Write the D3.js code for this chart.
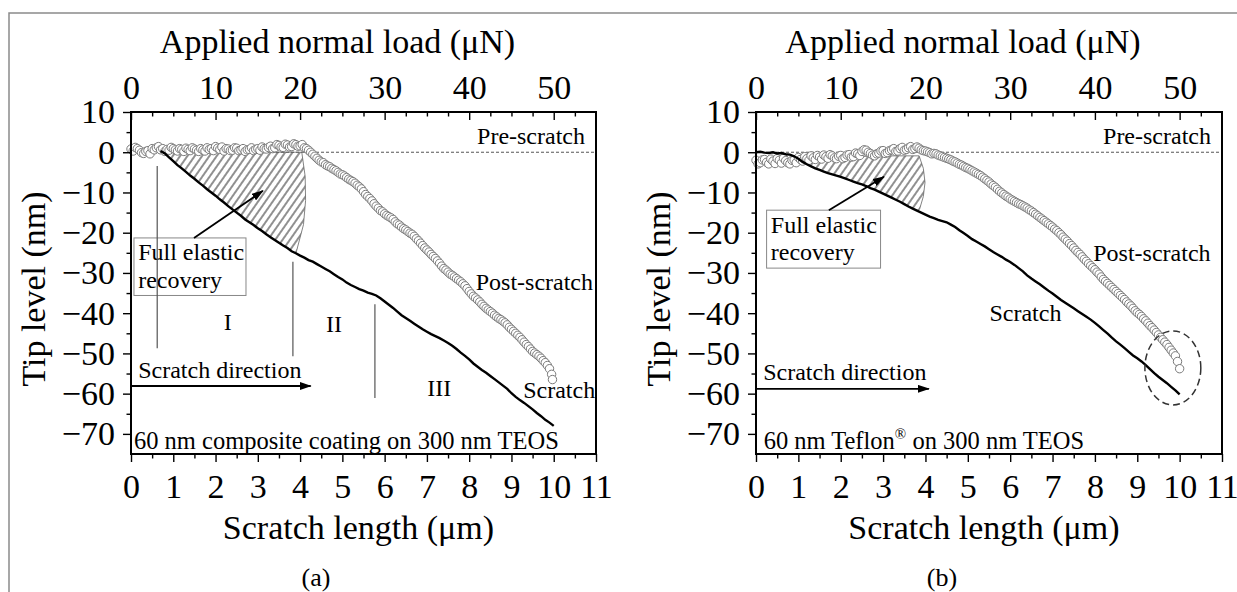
<!DOCTYPE html>
<html>
<head>
<meta charset="utf-8">
<script src="https://cdnjs.cloudflare.com/ajax/libs/d3/7.8.5/d3.min.js"></script>
<style>
body{margin:0;background:#fff}
svg{display:block;font-family:"Liberation Serif","Times New Roman",serif}
</style>
</head>
<body>
<svg></svg>
<script>
let width = 1237
let height = 592

let lengthTicks = [0,1,2,3,4,5,6,7,8,9,10,11]
let loadTicks = [0,10,20,30,40,50]
let levelTicks = [10,0,-10,-20,-30,-40,-50,-60,-70]

// (a) 60 nm composite coating -- scratch profile (um, nm)
let scratchA = [[0.7,0.3],[0.8,-0.3],[0.9,-1.3],[1.0,-2.2],[1.1,-3.2],[1.2,-4.0],[1.3,-4.9],[1.4,-5.8],[1.5,-6.6],[1.6,-7.5],[1.7,-8.3],[1.8,-9.2],[1.9,-10.0],[2.0,-10.8],[2.1,-11.7],[2.2,-12.5],[2.3,-13.4],[2.4,-14.2],[2.5,-15.0],[2.6,-15.8],[2.7,-16.7],[2.8,-17.4],[2.9,-18.1],[3.0,-18.9],[3.1,-19.6],[3.2,-20.4],[3.3,-21.1],[3.4,-21.8],[3.5,-22.5],[3.6,-23.2],[3.7,-23.8],[3.8,-24.6],[3.9,-25.1],[4.0,-25.7],[4.1,-26.2],[4.2,-26.8],[4.3,-27.2],[4.4,-27.8],[4.5,-28.4],[4.6,-29.0],[4.7,-29.6],[4.8,-30.3],[4.9,-31.0],[5.0,-31.6],[5.1,-32.4],[5.2,-33.0],[5.3,-33.5],[5.4,-34.0],[5.5,-34.4],[5.6,-34.9],[5.7,-35.2],[5.8,-35.6],[5.9,-36.3],[6.0,-37.1],[6.1,-37.9],[6.2,-38.7],[6.3,-39.6],[6.4,-40.5],[6.5,-41.2],[6.6,-41.9],[6.7,-42.6],[6.8,-43.3],[6.9,-44.0],[7.0,-44.6],[7.1,-45.2],[7.2,-45.7],[7.3,-46.2],[7.4,-46.8],[7.5,-47.4],[7.6,-48.1],[7.7,-48.9],[7.8,-49.8],[7.9,-50.6],[8.0,-51.5],[8.1,-52.5],[8.2,-53.3],[8.3,-54.1],[8.4,-54.8],[8.5,-55.6],[8.6,-56.4],[8.7,-57.2],[8.8,-58.0],[8.9,-58.8],[9.0,-59.9],[9.1,-60.8],[9.2,-61.6],[9.3,-62.3],[9.4,-63.1],[9.5,-63.9],[9.6,-64.8],[9.7,-65.6],[9.8,-66.5],[9.9,-67.2],[10.0,-68.0]]
// (a) post-scratch profile
let postA = [[0.0,0.8],[0.1,1.2],[0.2,0.5],[0.3,-0.3],[0.4,0.4],[0.5,0.9],[0.6,1.1],[0.7,0.6],[0.8,0.2],[0.9,0.5],[1.0,0.9],[1.1,0.3],[1.2,0.7],[1.3,1.0],[1.4,0.4],[1.5,0.8],[1.6,0.2],[1.7,0.6],[1.8,1.1],[1.9,0.9],[2.0,1.4],[2.1,0.7],[2.2,0.3],[2.3,0.8],[2.4,0.5],[2.5,1.0],[2.6,0.6],[2.7,0.2],[2.8,0.7],[2.9,0.4],[3.0,0.9],[3.1,1.3],[3.2,0.8],[3.3,1.5],[3.4,1.1],[3.5,1.7],[3.6,1.2],[3.7,1.8],[3.8,1.4],[3.9,1.9],[4.0,1.6],[4.1,1.1],[4.2,0.5],[4.3,-0.5],[4.4,-1.5],[4.5,-2.4],[4.6,-3.1],[4.7,-3.6],[4.8,-4.3],[4.9,-5.0],[5.0,-5.6],[5.1,-6.3],[5.2,-7.0],[5.3,-7.7],[5.4,-8.6],[5.5,-9.8],[5.6,-11.0],[5.7,-12.1],[5.8,-13.4],[5.9,-14.5],[6.0,-15.3],[6.1,-16.0],[6.2,-16.7],[6.3,-17.8],[6.4,-18.6],[6.5,-19.3],[6.6,-20.1],[6.7,-20.9],[6.8,-22.0],[6.9,-23.2],[7.0,-24.3],[7.1,-25.4],[7.2,-26.4],[7.3,-27.6],[7.4,-28.9],[7.5,-29.8],[7.6,-30.6],[7.7,-31.4],[7.8,-32.2],[7.9,-33.2],[8.0,-34.6],[8.1,-35.8],[8.2,-36.7],[8.3,-37.8],[8.4,-38.8],[8.5,-39.6],[8.6,-40.5],[8.7,-41.3],[8.8,-42.0],[8.9,-42.9],[9.0,-44.0],[9.1,-45.0],[9.2,-46.0],[9.3,-47.2],[9.4,-48.3],[9.5,-49.5],[9.6,-50.3],[9.7,-51.2],[9.8,-52.3],[9.9,-53.8],[9.95,-55.2],[9.97,-56.5]]
let postAMid = [[0.05,0.3],[0.15,0.9],[0.25,-0.1],[0.35,0.2],[0.45,-0.4],[0.55,0.6],[0.65,1.4],[0.75,0.9],[0.85,0.7],[0.95,1.2],[1.05,0.6],[1.15,0.9],[1.25,0.2],[1.35,0.7],[1.45,1.1],[1.55,0.5],[1.65,0.9],[1.75,0.3],[1.85,0.7],[1.95,0.4],[2.05,1.0],[2.15,1.3],[2.25,0.9],[2.35,0.4],[2.45,1.1],[2.55,0.4],[2.65,0.9],[2.75,0.6],[2.85,1.1],[2.95,0.7],[3.05,0.5],[3.15,0.9],[3.25,1.2],[3.35,0.9],[3.45,1.9],[3.55,1.3],[3.65,2.0],[3.75,1.3],[3.85,2.1],[3.95,1.5],[4.05,1.9],[4.15,0.9],[4.25,0.0],[4.35,-1.0],[4.45,-2.0],[4.55,-2.6],[4.65,-3.4],[4.75,-4.0],[4.85,-4.6],[4.95,-5.4],[5.05,-5.9],[5.15,-6.7],[5.25,-7.3],[5.35,-8.2],[5.45,-9.1],[5.55,-10.5],[5.65,-11.5],[5.75,-12.8],[5.85,-13.9],[5.95,-14.8],[6.05,-15.7],[6.15,-16.3],[6.25,-17.3],[6.35,-18.1],[6.45,-19.0],[6.55,-19.7],[6.65,-20.4],[6.75,-21.5],[6.85,-22.6],[6.95,-23.8],[7.05,-24.8],[7.15,-25.9],[7.25,-27.0],[7.35,-28.3],[7.45,-29.3],[7.55,-30.3],[7.65,-31.0],[7.75,-31.8],[7.85,-32.7],[7.95,-33.9],[8.05,-35.2],[8.15,-36.2],[8.25,-37.2],[8.35,-38.3],[8.45,-39.2],[8.55,-40.0],[8.65,-40.9],[8.75,-41.6],[8.85,-42.4],[8.95,-43.5],[9.05,-44.5],[9.15,-45.5],[9.25,-46.6],[9.35,-47.8],[9.45,-48.9],[9.55,-49.9],[9.65,-50.7],[9.75,-51.8],[9.85,-53.0]]
// right edge of the elastic recovery zone (a)
let recoveryEdgeA = [[4.04,0],[4.12,-6],[4.13,-12],[4.08,-18],[3.92,-24.4]]
let regionLinesA = [[0.62,-3.4,-48.7],[3.83,-27.2,-50.7],[5.77,-37.8,-61.1]]
let regionNames = ["I","II","III"]

// (b) 60 nm Teflon -- scratch profile
let scratchB = [[0.0,0.0],[0.1,0.1],[0.2,-0.1],[0.3,-0.2],[0.4,0.0],[0.5,-0.3],[0.6,-0.2],[0.7,-0.5],[0.8,-0.6],[0.9,-1.0],[1.0,-1.6],[1.1,-2.4],[1.2,-3.0],[1.3,-3.5],[1.4,-4.0],[1.5,-4.4],[1.6,-4.8],[1.7,-5.2],[1.8,-5.5],[1.9,-5.8],[2.0,-6.1],[2.1,-6.5],[2.2,-6.9],[2.3,-7.3],[2.4,-7.7],[2.5,-8.0],[2.6,-8.4],[2.7,-8.9],[2.8,-9.3],[2.9,-9.8],[3.0,-10.3],[3.1,-10.8],[3.2,-11.3],[3.3,-11.8],[3.4,-12.3],[3.5,-12.9],[3.6,-13.5],[3.7,-14.0],[3.8,-14.5],[3.9,-15.0],[4.0,-15.5],[4.1,-16.0],[4.2,-16.4],[4.3,-16.8],[4.4,-17.1],[4.5,-17.4],[4.6,-18.0],[4.7,-18.6],[4.8,-19.4],[4.9,-20.1],[5.0,-20.8],[5.1,-21.6],[5.2,-22.2],[5.3,-22.8],[5.4,-23.4],[5.5,-24.1],[5.6,-24.8],[5.7,-25.4],[5.8,-26.0],[5.9,-26.7],[6.0,-27.3],[6.1,-28.0],[6.2,-28.8],[6.3,-29.6],[6.4,-30.6],[6.5,-31.4],[6.6,-32.1],[6.7,-32.8],[6.8,-33.6],[6.9,-34.4],[7.0,-35.1],[7.1,-35.9],[7.2,-36.7],[7.3,-37.4],[7.4,-38.1],[7.5,-38.8],[7.6,-39.5],[7.7,-40.2],[7.8,-40.9],[7.9,-41.6],[8.0,-42.4],[8.1,-43.3],[8.2,-44.2],[8.3,-45.1],[8.4,-46.1],[8.5,-47.0],[8.6,-47.8],[8.7,-48.7],[8.8,-49.6],[8.9,-50.5],[9.0,-51.2],[9.1,-52.0],[9.2,-52.9],[9.3,-53.9],[9.4,-54.9],[9.5,-55.8],[9.6,-56.6],[9.7,-57.4],[9.8,-58.3],[9.9,-59.2],[10.0,-60.2]]
// (b) post-scratch profile
let postB = [[0.0,-2.0],[0.1,-2.6],[0.2,-1.8],[0.3,-2.9],[0.4,-2.2],[0.5,-1.6],[0.6,-2.7],[0.7,-2.1],[0.8,-2.9],[0.9,-1.9],[1.0,-1.3],[1.1,-2.2],[1.2,-1.6],[1.3,-0.9],[1.4,-1.8],[1.5,-1.2],[1.6,-0.7],[1.7,-1.5],[1.8,-0.9],[1.9,-1.6],[2.0,-0.8],[2.1,-1.3],[2.2,-0.6],[2.3,-1.1],[2.4,-0.4],[2.5,0.2],[2.6,0.5],[2.7,-0.3],[2.8,-0.9],[2.9,-0.2],[3.0,0.4],[3.1,-0.1],[3.2,0.6],[3.3,0.2],[3.4,0.9],[3.5,0.5],[3.6,1.1],[3.7,0.7],[3.8,1.3],[3.9,0.6],[4.0,0.3],[4.1,-0.1],[4.2,-0.3],[4.3,-0.7],[4.4,-1.1],[4.5,-1.5],[4.6,-1.9],[4.7,-2.4],[4.8,-3.0],[4.9,-3.5],[5.0,-4.0],[5.1,-4.6],[5.2,-5.2],[5.3,-5.8],[5.4,-6.6],[5.5,-7.4],[5.6,-8.3],[5.7,-9.2],[5.8,-10.1],[5.9,-10.9],[6.0,-11.6],[6.1,-12.2],[6.2,-12.8],[6.3,-13.3],[6.4,-13.9],[6.5,-14.6],[6.6,-15.4],[6.7,-16.2],[6.8,-17.0],[6.9,-17.8],[7.0,-18.6],[7.1,-19.5],[7.2,-20.5],[7.3,-21.6],[7.4,-22.7],[7.5,-23.8],[7.6,-24.9],[7.7,-26.0],[7.8,-27.1],[7.9,-28.2],[8.0,-29.2],[8.1,-30.3],[8.2,-31.6],[8.3,-32.6],[8.4,-33.6],[8.5,-34.6],[8.6,-35.6],[8.7,-36.6],[8.8,-37.7],[8.9,-38.8],[9.0,-39.9],[9.1,-40.8],[9.2,-41.9],[9.3,-43.1],[9.4,-44.2],[9.5,-45.4],[9.6,-46.6],[9.7,-47.8],[9.8,-49.2],[9.9,-50.6],[9.95,-52.0],[10.0,-53.8]]
let postBMid = [[0.05,-2.9],[0.15,-1.9],[0.25,-2.5],[0.35,-1.7],[0.45,-2.8],[0.55,-2.0],[0.65,-1.5],[0.75,-2.6],[0.85,-2.0],[0.95,-2.6],[1.05,-1.8],[1.15,-1.1],[1.25,-2.0],[1.35,-1.4],[1.45,-0.8],[1.55,-1.7],[1.65,-1.1],[1.75,-0.6],[1.85,-1.4],[1.95,-1.0],[2.05,-1.6],[2.15,-0.7],[2.25,-1.2],[2.35,-0.2],[2.45,-0.8],[2.55,0.6],[2.65,0.0],[2.75,-0.7],[2.85,-0.4],[2.95,0.3],[3.05,-0.3],[3.15,0.4],[3.25,0.9],[3.35,0.3],[3.45,1.2],[3.55,0.7],[3.65,1.4],[3.75,0.9],[3.85,1.0],[3.95,0.4],[4.05,0.1],[4.15,-0.4],[4.25,-0.4],[4.35,-0.9],[4.45,-1.3],[4.55,-1.7],[4.65,-2.2],[4.75,-2.7],[4.85,-3.2],[4.95,-3.8],[5.05,-4.3],[5.15,-4.9],[5.25,-5.5],[5.35,-6.2],[5.45,-7.0],[5.55,-7.9],[5.65,-8.7],[5.75,-9.7],[5.85,-10.5],[5.95,-11.2],[6.05,-11.9],[6.15,-12.5],[6.25,-13.0],[6.35,-13.6],[6.45,-14.3],[6.55,-15.0],[6.65,-15.8],[6.75,-16.6],[6.85,-17.4],[6.95,-18.2],[7.05,-19.1],[7.15,-20.0],[7.25,-21.1],[7.35,-22.1],[7.45,-23.2],[7.55,-24.4],[7.65,-25.4],[7.75,-26.6],[7.85,-27.7],[7.95,-28.7],[8.05,-29.8],[8.15,-31.0],[8.25,-32.1],[8.35,-33.1],[8.45,-34.1],[8.55,-35.1],[8.65,-36.1],[8.75,-37.2],[8.85,-38.2],[8.95,-39.4],[9.05,-40.3],[9.15,-41.4],[9.25,-42.5],[9.35,-43.6],[9.45,-44.8],[9.55,-46.0],[9.65,-47.2],[9.75,-48.5],[9.85,-49.9]]
let recoveryTopB = [[1.0,-1.4],[2.0,-1.2],[3.0,-0.9],[3.85,-0.9]]
let recoveryEdgeB = [[3.85,-0.9],[3.95,-4],[3.99,-7.5],[3.95,-11],[3.86,-14.2]]

let svg = d3.select('svg').attr('width', width).attr('height', height)

let defs = svg.append('defs')
defs.append('pattern').attr('id','hatch').attr('patternUnits','userSpaceOnUse')
    .attr('width',6).attr('height',6).attr('patternTransform','rotate(35)')
    .append('line').attr('x1',3).attr('y1',0).attr('x2',3).attr('y2',6)
    .attr('stroke','#222').attr('stroke-width',1)
defs.append('marker').attr('id','arrow').attr('markerUnits','userSpaceOnUse')
    .attr('markerWidth',12).attr('markerHeight',8).attr('refX',11).attr('refY',4).attr('orient','auto')
    .append('path').attr('d','M0,0 L12,4 L0,8 Z').attr('fill','#000')

// outer frame (partly cropped)
svg.append('path').attr('d','M9,'+height+' V13 H'+width).attr('fill','none').attr('stroke','#8a8a8a').attr('stroke-width',1.5)

let drawPanel = (p) => {
    let x = d3.scaleLinear().domain([0,11]).range([p.left, p.right])
    let load = d3.scaleLinear().domain([0,55]).range([p.left, p.right])
    let y = d3.scaleLinear().domain([-75,10]).range([454,112])
    let g = svg.append('g')

    let line = d3.line().x(d => x(d[0])).y(d => y(d[1]))

    // pre-scratch reference
    g.append('line').attr('x1',x(0)).attr('x2',x(11)).attr('y1',y(0)).attr('y2',y(0))
        .attr('stroke','#555').attr('stroke-width',1).attr('stroke-dasharray','3,2')

    // elastic recovery zone
    let under = p.scratch.filter(d => d[0] >= p.hatchFrom && d[0] <= p.hatchTo).reverse()
    g.append('path').attr('d', line(p.top.concat(p.edge).concat(under)) + 'Z')
        .attr('fill','url(#hatch)').attr('stroke','#666').attr('stroke-width',0.8)

    let post = p.post.concat(p.postMid).sort((m, n) => m[0] - n[0])
    g.selectAll('circle.post').data(post).enter().append('circle')
        .attr('class','post').attr('cx', d => x(d[0])).attr('cy', d => y(d[1])).attr('r',4.2)
        .attr('fill','#fff').attr('stroke','#7a7a7a').attr('stroke-width',1)

    g.append('path').attr('d', line(p.scratch)).attr('fill','none')
        .attr('stroke','#000').attr('stroke-width',2.4)

    // axes
    let font = el => el.selectAll('text').attr('font-family','"Liberation Serif", serif').attr('font-size',34).attr('fill','#000')
    let bottom = g.append('g').attr('transform','translate(0,454)')
        .call(d3.axisBottom(x).tickValues(lengthTicks).tickSize(8).tickPadding(12).tickFormat(d3.format('d')))
    bottom.call(font)
    g.append('g').attr('transform','translate(0,454)')
        .call(d3.axisBottom(x).tickValues(d3.range(0.5,11,1)).tickSize(4.5).tickFormat(''))
    let top = g.append('g').attr('transform','translate(0,112)')
        .call(d3.axisTop(load).tickValues(loadTicks).tickSizeInner(-8).tickSizeOuter(0).tickPadding(13))
    top.call(font)
    g.append('g').attr('transform','translate(0,112)')
        .call(d3.axisTop(load).tickValues(d3.range(2.5,55,2.5).filter(v => v % 10)).tickSizeInner(-4.5).tickSizeOuter(0).tickFormat(''))
    let left = g.append('g').attr('transform','translate(' + p.left + ',0)')
        .call(d3.axisLeft(y).tickValues(levelTicks).tickSize(8).tickPadding(8))
    left.call(font)
    g.append('g').attr('transform','translate(' + p.left + ',0)')
        .call(d3.axisLeft(y).tickValues(d3.range(-65,10,10)).tickSize(4.5).tickFormat(''))
    g.selectAll('.domain').remove()
    g.selectAll('.tick line').attr('stroke-width',1.4)

    g.append('rect').attr('x',x(0)).attr('y',y(10)).attr('width',x(11)-x(0)).attr('height',y(-75)-y(10))
        .attr('fill','none').attr('stroke','#000').attr('stroke-width',2)

    // titles
    g.append('text').attr('x', x(5.5) - 26).attr('y', 53).attr('text-anchor','middle')
        .attr('font-size',34).text('Applied normal load (\u03bcN)')
    g.append('text').attr('x', x(5.5) - 5).attr('y', 539).attr('text-anchor','middle')
        .attr('font-size',34).text('Scratch length (\u03bcm)')
    g.append('text').attr('transform','translate(' + (p.left - 86) + ',289) rotate(-90)')
        .attr('text-anchor','middle').attr('font-size',34).text('Tip level (nm)')
    g.append('text').attr('x', p.tagX).attr('y', 586).attr('text-anchor','middle')
        .attr('font-size',26).text(p.tag)

    let note = (tx, ty, s, anchor) => g.append('text').attr('x', x(tx)).attr('y', y(ty))
        .attr('text-anchor', anchor || 'start').attr('font-size',24).text(s)

    note(10.74, 2.0, 'Pre-scratch', 'end')
    note(p.postLabel[0], p.postLabel[1], 'Post-scratch', 'end')
    note(p.scratchLabel[0], p.scratchLabel[1], 'Scratch', p.scratchLabel[2])

    // Full elastic recovery box and arrow
    let b = p.box
    g.append('rect').attr('x', x(b[0])).attr('y', y(b[1])).attr('width', x(b[2]) - x(b[0]))
        .attr('height', y(b[3]) - y(b[1])).attr('fill','#fff').attr('stroke','#888').attr('stroke-width',1)
    note(b[0] + 0.1, b[1] - 5.6, 'Full elastic')
    note(b[0] + 0.1, b[1] - 12.4, 'recovery')
    g.append('line').attr('x1', x(p.pointer[0])).attr('y1', y(p.pointer[1]))
        .attr('x2', x(p.pointer[2])).attr('y2', y(p.pointer[3]))
        .attr('stroke','#000').attr('stroke-width',1.8).attr('marker-end','url(#arrow)')

    // scratch direction
    note(0.17, p.dirY + 2.1, 'Scratch direction')
    g.append('line').attr('x1', x(0)).attr('y1', y(p.dirY)).attr('x2', x(p.dirEnd)).attr('y2', y(p.dirY))
        .attr('stroke','#000').attr('stroke-width',1.8).attr('marker-end','url(#arrow)')

    let sample = g.append('text').attr('x', x(p.sampleX)).attr('y', y(-73.8)).attr('font-size',24.5)
    p.sample(sample)
    return {g: g, x: x, y: y}
}

let a = drawPanel({
    left: 131, right: 596, tag: '(a)', tagX: 316,
    scratch: scratchA, post: postA, postMid: postAMid,
    top: [[0.8,0],[4.04,0]], edge: recoveryEdgeA, hatchFrom: 0.8, hatchTo: 3.9,
    postLabel: [10.93,-34.3], scratchLabel: [10.98,-61.1,'end'],
    box: [0.07,-21.3,2.72,-35.6], pointer: [1.49,-21.3,3.12,-9.6],
    dirY: -58.1, dirEnd: 4.25, sampleX: 0.07,
    sample: t => t.text('60 nm composite coating on 300 nm TEOS')
})

regionLinesA.forEach(r => {
    a.g.append('line').attr('x1', a.x(r[0])).attr('x2', a.x(r[0])).attr('y1', a.y(r[1])).attr('y2', a.y(r[2]))
        .attr('stroke','#555').attr('stroke-width',1.2)
})
a.g.selectAll('text.region').data(regionNames).enter().append('text').attr('class','region')
    .attr('x', (d,i) => a.x([2.29,4.8,7.29][i])).attr('y', (d,i) => a.y([-44.2,-44.7,-60.7][i]))
    .attr('text-anchor','middle').attr('font-size',24).text(d => d)

let bPanel = drawPanel({
    left: 756, right: 1222, tag: '(b)', tagX: 942,
    scratch: scratchB, post: postB, postMid: postBMid,
    top: recoveryTopB, edge: recoveryEdgeB, hatchFrom: 1.0, hatchTo: 3.8,
    postLabel: [10.73,-27.0], scratchLabel: [6.36,-41.9,'middle'],
    box: [0.25,-14.4,2.94,-28.8], pointer: [1.72,-14.4,3.02,-6.1],
    dirY: -58.8, dirEnd: 4.08, sampleX: 0.18,
    sample: t => {
        t.append('tspan').text('60 nm Teflon')
        t.append('tspan').attr('font-size',15).attr('dy',-10).text('\u00ae')
        t.append('tspan').attr('dy',10).text(' on 300 nm TEOS')
    }
})

// dashed ring around the end of the scratch (b)
bPanel.g.append('ellipse').attr('cx', bPanel.x(9.84)).attr('cy', bPanel.y(-53.6))
    .attr('rx', bPanel.x(0.66) - bPanel.x(0)).attr('ry', bPanel.y(-9.2) - bPanel.y(0))
    .attr('fill','none').attr('stroke','#333').attr('stroke-width',1.5).attr('stroke-dasharray','7,4')
</script>
</body>
</html>
